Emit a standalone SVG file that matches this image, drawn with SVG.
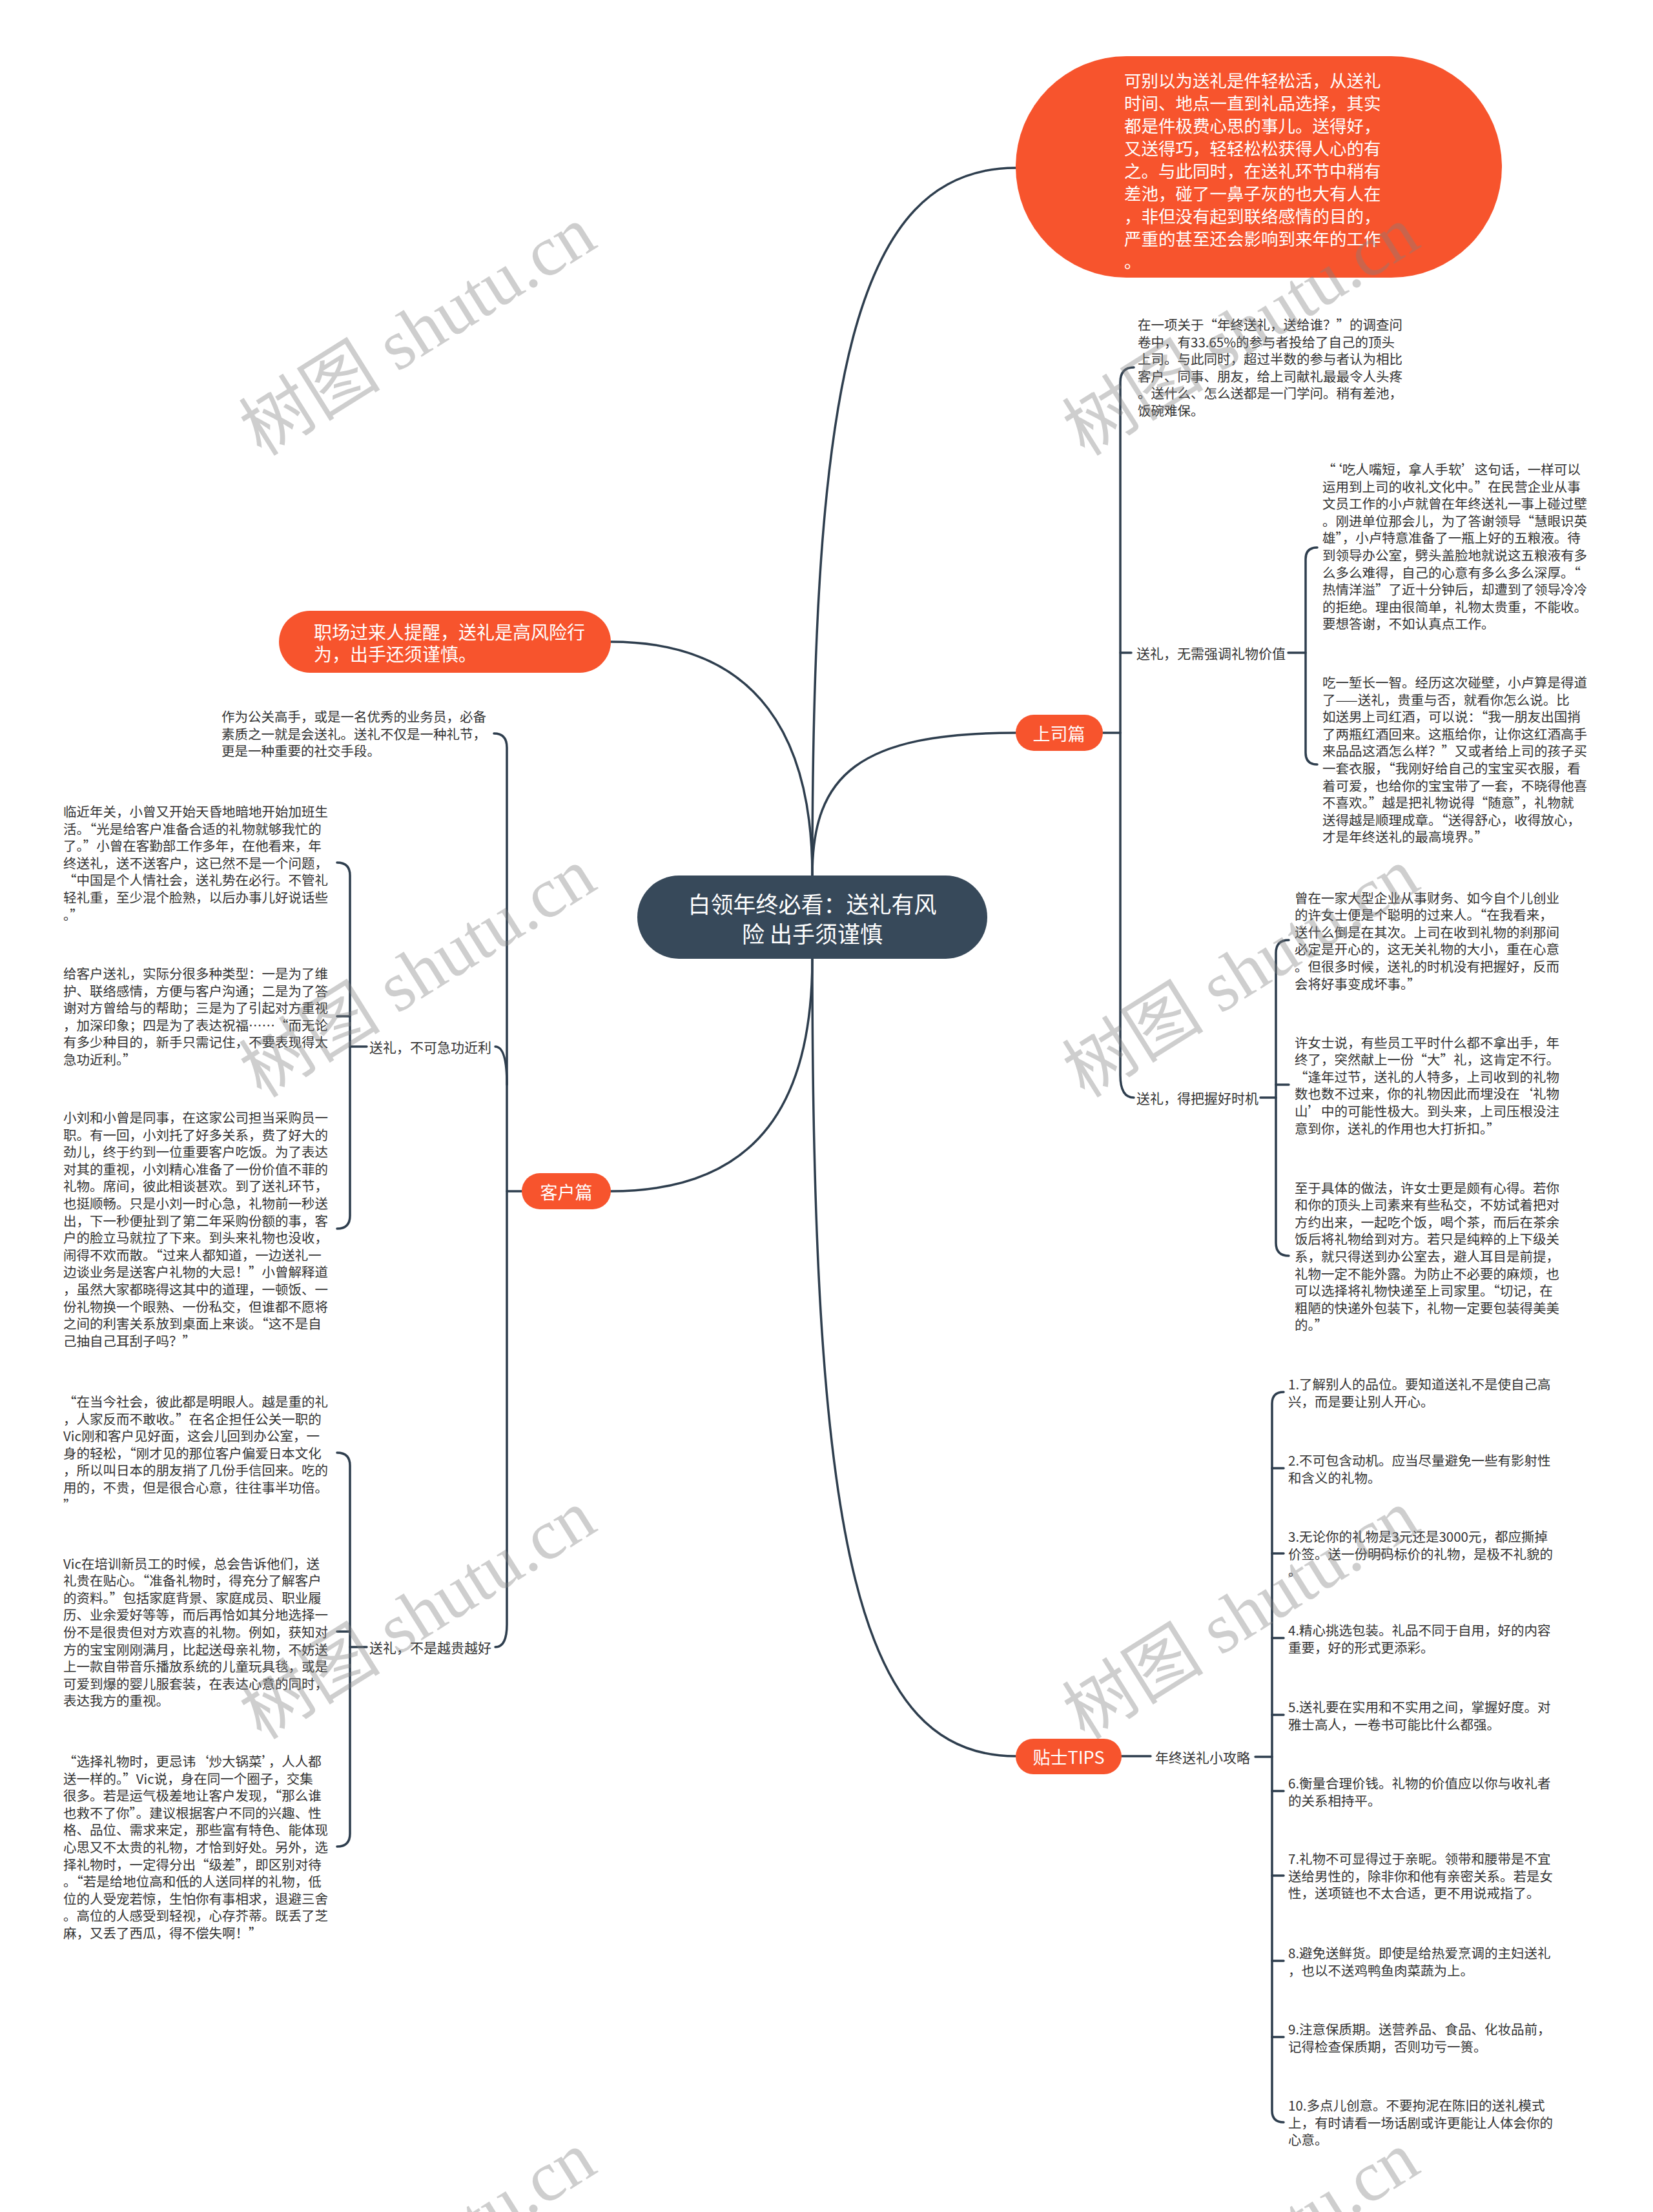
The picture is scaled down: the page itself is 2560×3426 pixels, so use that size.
<svg xmlns="http://www.w3.org/2000/svg" width="2560" height="3426" viewBox="0 0 2560 3426">
<style>
.t{font-family:"Noto Sans CJK SC","Noto Sans",sans-serif;font-size:20.5px;fill:#333;dominant-baseline:central}
.lbl{font-family:"Noto Sans CJK SC","Noto Sans",sans-serif;font-size:21px;fill:#333;dominant-baseline:central}
.wt{font-family:"Noto Sans CJK SC","Noto Sans",sans-serif;fill:#fff;dominant-baseline:central}
.ln{fill:none;stroke:#2e3e4e;stroke-width:3.5;stroke-linecap:round;stroke-linejoin:round}
.or{fill:#f7542d}
.wm{font-family:"Liberation Serif","Noto Sans CJK SC",serif;font-size:110px;fill:#808080;opacity:0.38;text-anchor:middle;dominant-baseline:central}
</style>
<rect width="2560" height="3426" fill="#fff"/>
<g id="connectors">
<path class="ln" d="M1258 1356 C1258 600 1320 260 1573 260"/>
<path class="ln" d="M1258 1356 C1258 1200 1330 1135 1573 1135"/>
<path class="ln" d="M1258 1356 C1258 1150 1180 994 946 994"/>
<path class="ln" d="M1258 1485 C1258 1700 1180 1845 946 1845"/>
<path class="ln" d="M1258 1485 C1258 2400 1330 2720 1573 2720"/>
<path class="ln" d="M1708 1135 H1735 V592 Q1735 569 1756 569"/>
<path class="ln" d="M1735 1011 H1752"/>
<path class="ln" d="M1735 1135 V1665 Q1735 1700 1756 1700"/>
<path class="ln" d="M1995 1011 H2022"/>
<path class="ln" d="M2040 848 Q2022 848 2022 866 V1166 Q2022 1184 2040 1184"/>
<path class="ln" d="M1952 1700 H1976"/>
<path class="ln" d="M1996 1456 Q1976 1456 1976 1476 V1925 Q1976 1945 1996 1945"/>
<path class="ln" d="M1976 1680 H1996"/>
<path class="ln" d="M1737 2720 H1782"/>
<path class="ln" d="M1944 2721 H1970"/>
<path class="ln" d="M1988 2156 Q1970 2156 1970 2174 V3269 Q1970 3287 1988 3287"/>
<path class="ln" d="M1970 2274 H1988 M1970 2406 H1988 M1970 2537 H1988 M1970 2656 H1988 M1970 2774 H1988 M1970 2905 H1988 M1970 3037 H1988 M1970 3155 H1988"/>
<path class="ln" d="M808 1845 H785 V1158 Q785 1136 765 1136"/>
<path class="ln" d="M785 1680 Q785 1621 767 1621"/>
<path class="ln" d="M785 1845 V2516 Q785 2551 767 2551"/>
<path class="ln" d="M568 1621 H542"/>
<path class="ln" d="M522 1336 Q542 1336 542 1356 V1883 Q542 1903 522 1903"/>
<path class="ln" d="M542 1574 H522"/>
<path class="ln" d="M568 2551 H542"/>
<path class="ln" d="M522 2250 Q542 2250 542 2270 V2840 Q542 2860 522 2860"/>
<path class="ln" d="M542 2527 H522"/>
</g>
<g id="root">
<rect x="987" y="1356" width="542" height="129" rx="64.5" fill="#37495a"/>
<text class="wt" font-size="35" text-anchor="middle"><tspan x="1258" y="1398">白领年终必看：送礼有风</tspan><tspan x="1258" y="1444">险 出手须谨慎</tspan></text>
</g>
<g id="intro">
<rect x="1573" y="87" width="753" height="343" rx="171.5" class="or"/>
<text class="wt" font-size="26.5"><tspan x="1741" y="123">可别以为送礼是件轻松活，从送礼</tspan><tspan x="1741" y="158">时间、地点一直到礼品选择，其实</tspan><tspan x="1741" y="193">都是件极费心思的事儿。送得好，</tspan><tspan x="1741" y="228">又送得巧，轻轻松松获得人心的有</tspan><tspan x="1741" y="263">之。与此同时，在送礼环节中稍有</tspan><tspan x="1741" y="298">差池，碰了一鼻子灰的也大有人在</tspan><tspan x="1741" y="333">，非但没有起到联络感情的目的，</tspan><tspan x="1741" y="368">严重的甚至还会影响到来年的工作</tspan><tspan x="1741" y="403">。</tspan></text>
</g>
<g id="warning">
<rect x="432" y="946" width="514" height="96" rx="48" class="or"/>
<text class="wt" font-size="28"><tspan x="486" y="978">职场过来人提醒，送礼是高风险行</tspan><tspan x="486" y="1012">为，出手还须谨慎。</tspan></text>
</g>
<g id="boss">
<rect x="1573" y="1107" width="135" height="56" rx="28" class="or"/>
<text class="wt" font-size="27" text-anchor="middle" x="1640" y="1135">上司篇</text>
</g>
<g id="boss-intro">
<text class="t"><tspan x="1762" y="502">在一项关于“年终送礼，送给谁？”的调查问</tspan><tspan x="1762" dy="26.6">卷中，有33.65%的参与者投给了自己的顶头</tspan><tspan x="1762" dy="26.6">上司。与此同时，超过半数的参与者认为相比</tspan><tspan x="1762" dy="26.6">客户、同事、朋友，给上司献礼最最令人头疼</tspan><tspan x="1762" dy="26.6">。送什么、怎么送都是一门学问。稍有差池，</tspan><tspan x="1762" dy="26.6">饭碗难保。</tspan></text>
</g>
<g id="boss-value">
<text class="lbl" x="1760" y="1011">送礼，无需强调礼物价值</text>
</g>
<g id="boss-value-1">
<text class="t"><tspan x="2048" y="726">“‘吃人嘴短，拿人手软’这句话，一样可以</tspan><tspan x="2048" dy="26.6">运用到上司的收礼文化中。”在民营企业从事</tspan><tspan x="2048" dy="26.6">文员工作的小卢就曾在年终送礼一事上碰过壁</tspan><tspan x="2048" dy="26.6">。刚进单位那会儿，为了答谢领导“慧眼识英</tspan><tspan x="2048" dy="26.6">雄”，小卢特意准备了一瓶上好的五粮液。待</tspan><tspan x="2048" dy="26.6">到领导办公室，劈头盖脸地就说这五粮液有多</tspan><tspan x="2048" dy="26.6">么多么难得，自己的心意有多么多么深厚。“</tspan><tspan x="2048" dy="26.6">热情洋溢”了近十分钟后，却遭到了领导冷冷</tspan><tspan x="2048" dy="26.6">的拒绝。理由很简单，礼物太贵重，不能收。</tspan><tspan x="2048" dy="26.6">要想答谢，不如认真点工作。</tspan></text>
</g>
<g id="boss-value-2">
<text class="t"><tspan x="2048" y="1056">吃一堑长一智。经历这次碰壁，小卢算是得道</tspan><tspan x="2048" dy="26.6">了——送礼，贵重与否，就看你怎么说。比</tspan><tspan x="2048" dy="26.6">如送男上司红酒，可以说：“我一朋友出国捎</tspan><tspan x="2048" dy="26.6">了两瓶红酒回来。这瓶给你，让你这红酒高手</tspan><tspan x="2048" dy="26.6">来品品这酒怎么样？”又或者给上司的孩子买</tspan><tspan x="2048" dy="26.6">一套衣服，“我刚好给自己的宝宝买衣服，看</tspan><tspan x="2048" dy="26.6">着可爱，也给你的宝宝带了一套，不晓得他喜</tspan><tspan x="2048" dy="26.6">不喜欢。”越是把礼物说得“随意”，礼物就</tspan><tspan x="2048" dy="26.6">送得越是顺理成章。“送得舒心，收得放心，</tspan><tspan x="2048" dy="26.6">才是年终送礼的最高境界。”</tspan></text>
</g>
<g id="boss-timing">
<text class="lbl" x="1760" y="1700">送礼，得把握好时机</text>
</g>
<g id="boss-timing-1">
<text class="t"><tspan x="2005" y="1389.5">曾在一家大型企业从事财务、如今自个儿创业</tspan><tspan x="2005" dy="26.6">的许女士便是个聪明的过来人。“在我看来，</tspan><tspan x="2005" dy="26.6">送什么倒是在其次。上司在收到礼物的刹那间</tspan><tspan x="2005" dy="26.6">必定是开心的，这无关礼物的大小，重在心意</tspan><tspan x="2005" dy="26.6">。但很多时候，送礼的时机没有把握好，反而</tspan><tspan x="2005" dy="26.6">会将好事变成坏事。”</tspan></text>
</g>
<g id="boss-timing-2">
<text class="t"><tspan x="2005" y="1613.5">许女士说，有些员工平时什么都不拿出手，年</tspan><tspan x="2005" dy="26.6">终了，突然献上一份“大”礼，这肯定不行。</tspan><tspan x="2005" dy="26.6">“逢年过节，送礼的人特多，上司收到的礼物</tspan><tspan x="2005" dy="26.6">数也数不过来，你的礼物因此而埋没在‘礼物</tspan><tspan x="2005" dy="26.6">山’中的可能性极大。到头来，上司压根没注</tspan><tspan x="2005" dy="26.6">意到你，送礼的作用也大打折扣。”</tspan></text>
</g>
<g id="boss-timing-3">
<text class="t"><tspan x="2005" y="1838.6">至于具体的做法，许女士更是颇有心得。若你</tspan><tspan x="2005" dy="26.6">和你的顶头上司素来有些私交，不妨试着把对</tspan><tspan x="2005" dy="26.6">方约出来，一起吃个饭，喝个茶，而后在茶余</tspan><tspan x="2005" dy="26.6">饭后将礼物给到对方。若只是纯粹的上下级关</tspan><tspan x="2005" dy="26.6">系，就只得送到办公室去，避人耳目是前提，</tspan><tspan x="2005" dy="26.6">礼物一定不能外露。为防止不必要的麻烦，也</tspan><tspan x="2005" dy="26.6">可以选择将礼物快递至上司家里。“切记，在</tspan><tspan x="2005" dy="26.6">粗陋的快递外包装下，礼物一定要包装得美美</tspan><tspan x="2005" dy="26.6">的。”</tspan></text>
</g>
<g id="tips">
<rect x="1573" y="2693" width="164" height="55" rx="27.5" class="or"/>
<text class="wt" font-size="27" text-anchor="middle" x="1655" y="2720">贴士TIPS</text>
</g>
<g id="tips-label">
<text class="lbl" x="1789" y="2721">年终送礼小攻略</text>
</g>
<g id="tips-items">
<text class="t"><tspan x="1995" y="2143">1.了解别人的品位。要知道送礼不是使自己高</tspan><tspan x="1995" dy="26.6">兴，而是要让别人开心。</tspan></text>
<text class="t"><tspan x="1995" y="2261">2.不可包含动机。应当尽量避免一些有影射性</tspan><tspan x="1995" dy="26.6">和含义的礼物。</tspan></text>
<text class="t"><tspan x="1995" y="2379">3.无论你的礼物是3元还是3000元，都应撕掉</tspan><tspan x="1995" dy="26.6">价签。送一份明码标价的礼物，是极不礼貌的</tspan><tspan x="1995" dy="26.6">。</tspan></text>
<text class="t"><tspan x="1995" y="2524">4.精心挑选包装。礼品不同于自用，好的内容</tspan><tspan x="1995" dy="26.6">重要，好的形式更添彩。</tspan></text>
<text class="t"><tspan x="1995" y="2643">5.送礼要在实用和不实用之间，掌握好度。对</tspan><tspan x="1995" dy="26.6">雅士高人，一卷书可能比什么都强。</tspan></text>
<text class="t"><tspan x="1995" y="2761">6.衡量合理价钱。礼物的价值应以你与收礼者</tspan><tspan x="1995" dy="26.6">的关系相持平。</tspan></text>
<text class="t"><tspan x="1995" y="2878">7.礼物不可显得过于亲昵。领带和腰带是不宜</tspan><tspan x="1995" dy="26.6">送给男性的，除非你和他有亲密关系。若是女</tspan><tspan x="1995" dy="26.6">性，送项链也不太合适，更不用说戒指了。</tspan></text>
<text class="t"><tspan x="1995" y="3024">8.避免送鲜货。即使是给热爱烹调的主妇送礼</tspan><tspan x="1995" dy="26.6">，也以不送鸡鸭鱼肉菜蔬为上。</tspan></text>
<text class="t"><tspan x="1995" y="3142">9.注意保质期。送营养品、食品、化妆品前，</tspan><tspan x="1995" dy="26.6">记得检查保质期，否则功亏一篑。</tspan></text>
<text class="t"><tspan x="1995" y="3260">10.多点儿创意。不要拘泥在陈旧的送礼模式</tspan><tspan x="1995" dy="26.6">上，有时请看一场话剧或许更能让人体会你的</tspan><tspan x="1995" dy="26.6">心意。</tspan></text>
</g>
<g id="client">
<rect x="808" y="1817" width="138" height="56" rx="28" class="or"/>
<text class="wt" font-size="27" text-anchor="middle" x="877" y="1845">客户篇</text>
</g>
<g id="client-intro">
<text class="t"><tspan x="343" y="1109">作为公关高手，或是一名优秀的业务员，必备</tspan><tspan x="343" dy="26.6">素质之一就是会送礼。送礼不仅是一种礼节，</tspan><tspan x="343" dy="26.6">更是一种重要的社交手段。</tspan></text>
</g>
<g id="client-haste">
<text class="lbl" x="572" y="1621">送礼，不可急功近利</text>
</g>
<g id="client-haste-1">
<text class="t"><tspan x="98" y="1256">临近年关，小曾又开始天昏地暗地开始加班生</tspan><tspan x="98" dy="26.6">活。“光是给客户准备合适的礼物就够我忙的</tspan><tspan x="98" dy="26.6">了。”小曾在客勤部工作多年，在他看来，年</tspan><tspan x="98" dy="26.6">终送礼，送不送客户，这已然不是一个问题，</tspan><tspan x="98" dy="26.6">“中国是个人情社会，送礼势在必行。不管礼</tspan><tspan x="98" dy="26.6">轻礼重，至少混个脸熟，以后办事儿好说话些</tspan><tspan x="98" dy="26.6">。”</tspan></text>
</g>
<g id="client-haste-2">
<text class="t"><tspan x="98" y="1507">给客户送礼，实际分很多种类型：一是为了维</tspan><tspan x="98" dy="26.6">护、联络感情，方便与客户沟通；二是为了答</tspan><tspan x="98" dy="26.6">谢对方曾给与的帮助；三是为了引起对方重视</tspan><tspan x="98" dy="26.6">，加深印象；四是为了表达祝福……“而无论</tspan><tspan x="98" dy="26.6">有多少种目的，新手只需记住，不要表现得太</tspan><tspan x="98" dy="26.6">急功近利。”</tspan></text>
</g>
<g id="client-haste-3">
<text class="t"><tspan x="98" y="1730">小刘和小曾是同事，在这家公司担当采购员一</tspan><tspan x="98" dy="26.6">职。有一回，小刘托了好多关系，费了好大的</tspan><tspan x="98" dy="26.6">劲儿，终于约到一位重要客户吃饭。为了表达</tspan><tspan x="98" dy="26.6">对其的重视，小刘精心准备了一份价值不菲的</tspan><tspan x="98" dy="26.6">礼物。席间，彼此相谈甚欢。到了送礼环节，</tspan><tspan x="98" dy="26.6">也挺顺畅。只是小刘一时心急，礼物前一秒送</tspan><tspan x="98" dy="26.6">出，下一秒便扯到了第二年采购份额的事，客</tspan><tspan x="98" dy="26.6">户的脸立马就拉了下来。到头来礼物也没收，</tspan><tspan x="98" dy="26.6">闹得不欢而散。“过来人都知道，一边送礼一</tspan><tspan x="98" dy="26.6">边谈业务是送客户礼物的大忌！”小曾解释道</tspan><tspan x="98" dy="26.6">，虽然大家都晓得这其中的道理，一顿饭、一</tspan><tspan x="98" dy="26.6">份礼物换一个眼熟、一份私交，但谁都不愿将</tspan><tspan x="98" dy="26.6">之间的利害关系放到桌面上来谈。“这不是自</tspan><tspan x="98" dy="26.6">己抽自己耳刮子吗？”</tspan></text>
</g>
<g id="client-price">
<text class="lbl" x="572" y="2551">送礼，不是越贵越好</text>
</g>
<g id="client-price-1">
<text class="t"><tspan x="98" y="2170">“在当今社会，彼此都是明眼人。越是重的礼</tspan><tspan x="98" dy="26.6">，人家反而不敢收。”在名企担任公关一职的</tspan><tspan x="98" dy="26.6">Vic刚和客户见好面，这会儿回到办公室，一</tspan><tspan x="98" dy="26.6">身的轻松，“刚才见的那位客户偏爱日本文化</tspan><tspan x="98" dy="26.6">，所以叫日本的朋友捎了几份手信回来。吃的</tspan><tspan x="98" dy="26.6">用的，不贵，但是很合心意，往往事半功倍。</tspan><tspan x="98" dy="26.6">”</tspan></text>
</g>
<g id="client-price-2">
<text class="t"><tspan x="98" y="2420.6">Vic在培训新员工的时候，总会告诉他们，送</tspan><tspan x="98" dy="26.6">礼贵在贴心。“准备礼物时，得充分了解客户</tspan><tspan x="98" dy="26.6">的资料。”包括家庭背景、家庭成员、职业履</tspan><tspan x="98" dy="26.6">历、业余爱好等等，而后再恰如其分地选择一</tspan><tspan x="98" dy="26.6">份不是很贵但对方欢喜的礼物。例如，获知对</tspan><tspan x="98" dy="26.6">方的宝宝刚刚满月，比起送母亲礼物，不妨送</tspan><tspan x="98" dy="26.6">上一款自带音乐播放系统的儿童玩具毯，或是</tspan><tspan x="98" dy="26.6">可爱到爆的婴儿服套装，在表达心意的同时，</tspan><tspan x="98" dy="26.6">表达我方的重视。</tspan></text>
</g>
<g id="client-price-3">
<text class="t"><tspan x="98" y="2727">“选择礼物时，更忌讳‘炒大锅菜’，人人都</tspan><tspan x="98" dy="26.6">送一样的。”Vic说，身在同一个圈子，交集</tspan><tspan x="98" dy="26.6">很多。若是运气极差地让客户发现，“那么谁</tspan><tspan x="98" dy="26.6">也救不了你”。建议根据客户不同的兴趣、性</tspan><tspan x="98" dy="26.6">格、品位、需求来定，那些富有特色、能体现</tspan><tspan x="98" dy="26.6">心思又不太贵的礼物，才恰到好处。另外，选</tspan><tspan x="98" dy="26.6">择礼物时，一定得分出“级差”，即区别对待</tspan><tspan x="98" dy="26.6">。“若是给地位高和低的人送同样的礼物，低</tspan><tspan x="98" dy="26.6">位的人受宠若惊，生怕你有事相求，退避三舍</tspan><tspan x="98" dy="26.6">。高位的人感受到轻视，心存芥蒂。既丢了芝</tspan><tspan x="98" dy="26.6">麻，又丢了西瓜，得不偿失啊！”</tspan></text>
</g>
<g id="watermarks">
<text class="wm" transform="translate(647 513) rotate(-32)">树图 shutu.cn</text>
<text class="wm" transform="translate(1922 513) rotate(-32)">树图 shutu.cn</text>
<text class="wm" transform="translate(647 1507) rotate(-32)">树图 shutu.cn</text>
<text class="wm" transform="translate(1922 1507) rotate(-32)">树图 shutu.cn</text>
<text class="wm" transform="translate(647 2501) rotate(-32)">树图 shutu.cn</text>
<text class="wm" transform="translate(1922 2501) rotate(-32)">树图 shutu.cn</text>
<text class="wm" transform="translate(647 3495) rotate(-32)">树图 shutu.cn</text>
<text class="wm" transform="translate(1922 3495) rotate(-32)">树图 shutu.cn</text>
</g>
</svg>
